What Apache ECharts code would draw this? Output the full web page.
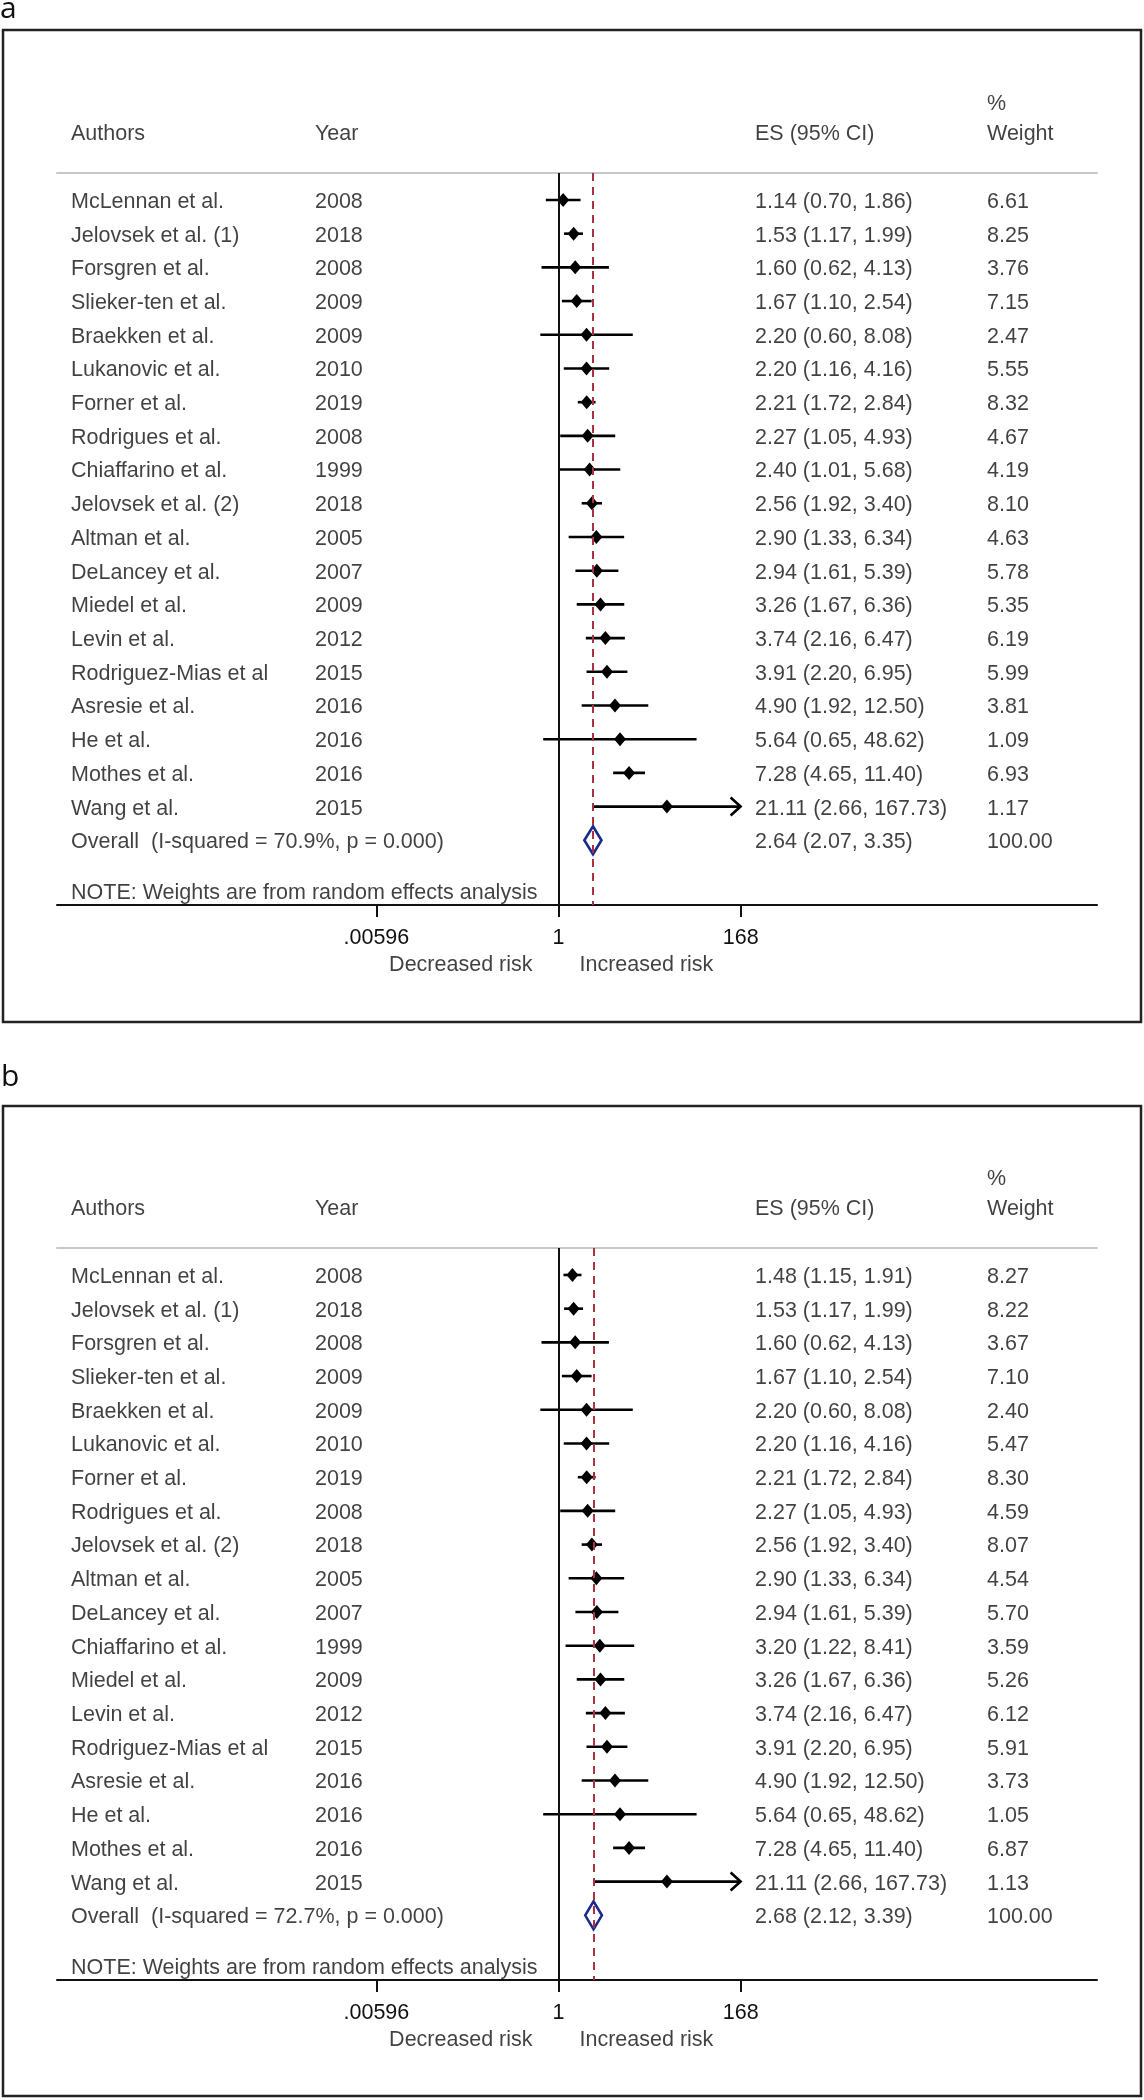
<!DOCTYPE html>
<html><head><meta charset="utf-8">
<script src="https://cdn.jsdelivr.net/npm/echarts@6/dist/echarts.min.js"></script>
<style>html,body{margin:0;padding:0;background:#fff}#c{width:1144px;height:2100px}</style>
</head><body><div id="c"></div>
<script>
// ---------------- DATA ----------------
const authorsA = ['McLennan et al.','Jelovsek et al. (1)','Forsgren et al.','Slieker-ten et al.','Braekken et al.','Lukanovic et al.','Forner et al.','Rodrigues et al.','Chiaffarino et al.','Jelovsek et al. (2)','Altman et al.','DeLancey et al.','Miedel et al.','Levin et al.','Rodriguez-Mias et al','Asresie et al.','He et al.','Mothes et al.','Wang et al.'];
const yearsA = [2008,2018,2008,2009,2009,2010,2019,2008,1999,2018,2005,2007,2009,2012,2015,2016,2016,2016,2015];
const esA = [1.14,1.53,1.60,1.67,2.20,2.20,2.21,2.27,2.40,2.56,2.90,2.94,3.26,3.74,3.91,4.90,5.64,7.28,21.11];
const loA = [0.70,1.17,0.62,1.10,0.60,1.16,1.72,1.05,1.01,1.92,1.33,1.61,1.67,2.16,2.20,1.92,0.65,4.65,2.66];
const hiA = [1.86,1.99,4.13,2.54,8.08,4.16,2.84,4.93,5.68,3.40,6.34,5.39,6.36,6.47,6.95,12.50,48.62,11.40,167.73];
const weightA = [6.61,8.25,3.76,7.15,2.47,5.55,8.32,4.67,4.19,8.10,4.63,5.78,5.35,6.19,5.99,3.81,1.09,6.93,1.17];
const overallA = [2.64, 2.07, 3.35];
const overallWeightA = 100.00;
const i2A = 70.9, pA = 0.000;

const authorsB = ['McLennan et al.','Jelovsek et al. (1)','Forsgren et al.','Slieker-ten et al.','Braekken et al.','Lukanovic et al.','Forner et al.','Rodrigues et al.','Jelovsek et al. (2)','Altman et al.','DeLancey et al.','Chiaffarino et al.','Miedel et al.','Levin et al.','Rodriguez-Mias et al','Asresie et al.','He et al.','Mothes et al.','Wang et al.'];
const yearsB = [2008,2018,2008,2009,2009,2010,2019,2008,2018,2005,2007,1999,2009,2012,2015,2016,2016,2016,2015];
const esB = [1.48,1.53,1.60,1.67,2.20,2.20,2.21,2.27,2.56,2.90,2.94,3.20,3.26,3.74,3.91,4.90,5.64,7.28,21.11];
const loB = [1.15,1.17,0.62,1.10,0.60,1.16,1.72,1.05,1.92,1.33,1.61,1.22,1.67,2.16,2.20,1.92,0.65,4.65,2.66];
const hiB = [1.91,1.99,4.13,2.54,8.08,4.16,2.84,4.93,3.40,6.34,5.39,8.41,6.36,6.47,6.95,12.50,48.62,11.40,167.73];
const weightB = [8.27,8.22,3.67,7.10,2.40,5.47,8.30,4.59,8.07,4.54,5.70,3.59,5.26,6.12,5.91,3.73,1.05,6.87,1.13];
const overallB = [2.68, 2.12, 3.39];
const overallWeightB = 100.00;
const i2B = 72.7, pB = 0.000;

const tickValues = [0.00596, 1, 168];
const tickLabels = ['.00596', '1', '168'];
const nullValue = 1;
const headers = ['Authors', 'Year', 'ES (95% CI)', '%', 'Weight'];
const sideLabels = ['Decreased risk', 'Increased risk'];
const noteText = 'NOTE: Weights are from random effects analysis';
const panelLetters = ['a', 'b'];

// ---------------- LAYOUT ----------------
const FONT = '"Liberation Sans", Arial, Helvetica, sans-serif';
const FS = 21.5;
const TXT = '#111';
const GRID_LEFT = 57, GRID_W = 1040, GRID_H = 732;
const PANEL_TOP = [173, 1248];
const X_MIN = Math.exp(-14.107), X_MAX = Math.exp(15.148);
const ROW_MIN = -0.8, ROW_MAX = 20.92;
const COL = {author: 14, year: 258, es: 698, weight: 930};
const ROW = {header: -2, pct: -2.907, overall: 19, note: 20.5, side: 22.64};

const panels = [
  {authors: authorsA, years: yearsA, es: esA, lo: loA, hi: hiA, w: weightA, ov: overallA, ovw: overallWeightA, i2: i2A, p: pA},
  {authors: authorsB, years: yearsB, es: esB, lo: loB, hi: hiB, w: weightB, ov: overallB, ovw: overallWeightB, i2: i2B, p: pB}
];

const grid = [], xAxis = [], yAxis = [], series = [];
const f2 = v => v.toFixed(2);
function tickLabelFor(v) {
  let best = 0;
  tickValues.forEach((t, i) => {
    if (Math.abs(Math.log(t) - Math.log(v)) < Math.abs(Math.log(tickValues[best]) - Math.log(v))) best = i;
  });
  return tickLabels[best];
}
const textLabel = {show: true, position: 'right', distance: 0, offset: [0, 2], formatter: '{b}', color: TXT, fontSize: FS, fontFamily: FONT};

panels.forEach((d, p) => {
  grid.push({left: GRID_LEFT, top: PANEL_TOP[p], width: GRID_W, height: GRID_H});
  xAxis.push({
    type: 'log', gridIndex: p, min: X_MIN, max: X_MAX, position: 'bottom',
    axisLine: {show: true, onZero: false, lineStyle: {color: '#111', width: 2}},
    axisTick: {show: true, length: 12, customValues: tickValues, lineStyle: {color: '#111', width: 2}},
    axisLabel: {show: true, customValues: tickValues, margin: 22, color: TXT, fontSize: FS, fontFamily: FONT, formatter: tickLabelFor},
    splitLine: {show: false}, minorTick: {show: false}, minorSplitLine: {show: false}
  });
  xAxis.push({
    type: 'value', gridIndex: p, min: 0, max: GRID_W, position: 'top',
    axisLine: {show: true, onZero: false, lineStyle: {color: '#c8c8c8', width: 2}},
    axisTick: {show: false}, axisLabel: {show: false}, splitLine: {show: false}
  });
  yAxis.push({type: 'value', gridIndex: p, min: ROW_MIN, max: ROW_MAX, inverse: true, show: false});

  const xl = 2 * p, xc = 2 * p + 1;
  // reference lines
  series.push({
    type: 'scatter', xAxisIndex: xl, yAxisIndex: p, data: [], silent: true, z: 1,
    markLine: {
      silent: true, symbol: ['none', 'none'], label: {show: false}, animation: false,
      data: [
        {xAxis: nullValue, lineStyle: {color: '#111', width: 2, type: 'solid'}},
        {xAxis: d.ov[0], lineStyle: {color: '#a83240', width: 2, type: [8, 6]}}
      ]
    }
  });
  // confidence intervals
  series.push({
    type: 'custom', xAxisIndex: xl, yAxisIndex: p, z: 2, silent: true,
    data: d.es.map((e, i) => [d.lo[i], d.hi[i], i]),
    encode: {x: [0, 1], y: 2},
    renderItem: (params, api) => {
      const lo = api.value(0), hi = api.value(1), row = api.value(2);
      const a = api.coord([lo, row]), b = api.coord([hi, row]);
      const children = [{type: 'line', shape: {x1: a[0], y1: a[1], x2: b[0], y2: b[1]}, style: {stroke: '#000', lineWidth: 2.6}}];
      if (hi >= tickValues[tickValues.length - 1] - 0.5) {
        children.push({type: 'polyline', shape: {points: [[b[0] - 10, b[1] - 9], [b[0], b[1]], [b[0] - 10, b[1] + 9]]}, style: {stroke: '#000', lineWidth: 2.6, fill: null}});
      }
      return {type: 'group', children};
    }
  });
  // point estimates
  series.push({
    type: 'scatter', xAxisIndex: xl, yAxisIndex: p, z: 3, silent: true,
    symbol: 'diamond', symbolSize: [12, 14], itemStyle: {color: '#000', opacity: 1},
    data: d.es.map((e, i) => [e, i])
  });
  // overall diamond
  series.push({
    type: 'custom', xAxisIndex: xl, yAxisIndex: p, z: 3, silent: true,
    data: [[d.ov[0], d.ov[1], d.ov[2], ROW.overall]],
    encode: {x: [0, 1, 2], y: 3},
    renderItem: (params, api) => {
      const row = api.value(3);
      const c = api.coord([api.value(0), row]);
      const l = api.coord([api.value(1), row]);
      const r = api.coord([api.value(2), row]);
      return {type: 'polygon', shape: {points: [[l[0], c[1]], [c[0], c[1] - 14], [r[0], c[1]], [c[0], c[1] + 14]]},
        style: {stroke: '#1b2a8c', lineWidth: 2.6, fill: 'rgba(0,0,0,0)'}};
    }
  });
  // table text
  const items = [];
  items.push({name: headers[0], value: [COL.author, ROW.header]});
  items.push({name: headers[1], value: [COL.year, ROW.header]});
  items.push({name: headers[2], value: [COL.es, ROW.header]});
  items.push({name: headers[3], value: [COL.weight, ROW.pct]});
  items.push({name: headers[4], value: [COL.weight, ROW.header]});
  d.authors.forEach((a, i) => {
    items.push({name: a, value: [COL.author, i]});
    items.push({name: String(d.years[i]), value: [COL.year, i]});
    items.push({name: f2(d.es[i]) + ' (' + f2(d.lo[i]) + ', ' + f2(d.hi[i]) + ')', value: [COL.es, i]});
    items.push({name: f2(d.w[i]), value: [COL.weight, i]});
  });
  items.push({name: 'Overall  (I-squared = ' + d.i2.toFixed(1) + '%, p = ' + d.p.toFixed(3) + ')', value: [COL.author, ROW.overall]});
  items.push({name: f2(d.ov[0]) + ' (' + f2(d.ov[1]) + ', ' + f2(d.ov[2]) + ')', value: [COL.es, ROW.overall]});
  items.push({name: f2(d.ovw), value: [COL.weight, ROW.overall]});
  items.push({name: noteText, value: [COL.author, ROW.note]});
  series.push({
    type: 'scatter', xAxisIndex: xc, yAxisIndex: p, z: 5, silent: true, clip: false,
    symbolSize: 0, label: textLabel, data: items
  });
  // side labels
  series.push({
    type: 'scatter', xAxisIndex: xl, yAxisIndex: p, z: 5, silent: true, clip: false, symbolSize: 0,
    data: [
      {name: sideLabels[0], value: [nullValue, ROW.side], label: Object.assign({}, textLabel, {position: 'left', distance: 26})},
      {name: sideLabels[1], value: [nullValue, ROW.side], label: Object.assign({}, textLabel, {position: 'right', distance: 21})}
    ],
    label: textLabel
  });
});

const graphic = [
  {type: 'rect', shape: {x: 3, y: 30, width: 1138, height: 992}, style: {stroke: '#222', lineWidth: 2.5, fill: 'rgba(0,0,0,0)'}, silent: true},
  {type: 'rect', shape: {x: 3, y: 1106, width: 1138, height: 990}, style: {stroke: '#222', lineWidth: 2.5, fill: 'rgba(0,0,0,0)'}, silent: true},
  {type: 'text', x: 0, y: 9, style: {text: panelLetters[0], font: '30px "Open Sans", sans-serif', fill: '#111', verticalAlign: 'middle', align: 'left'}, silent: true},
  {type: 'text', x: 1, y: 1077, style: {text: panelLetters[1], font: '30px "Open Sans", sans-serif', fill: '#111', verticalAlign: 'middle', align: 'left'}, silent: true}
];

const chart = echarts.init(document.getElementById('c'), null, {renderer: 'canvas'});
chart.setOption({animation: false, backgroundColor: '#fff', grid, xAxis, yAxis, series, graphic});
</script></body></html>
